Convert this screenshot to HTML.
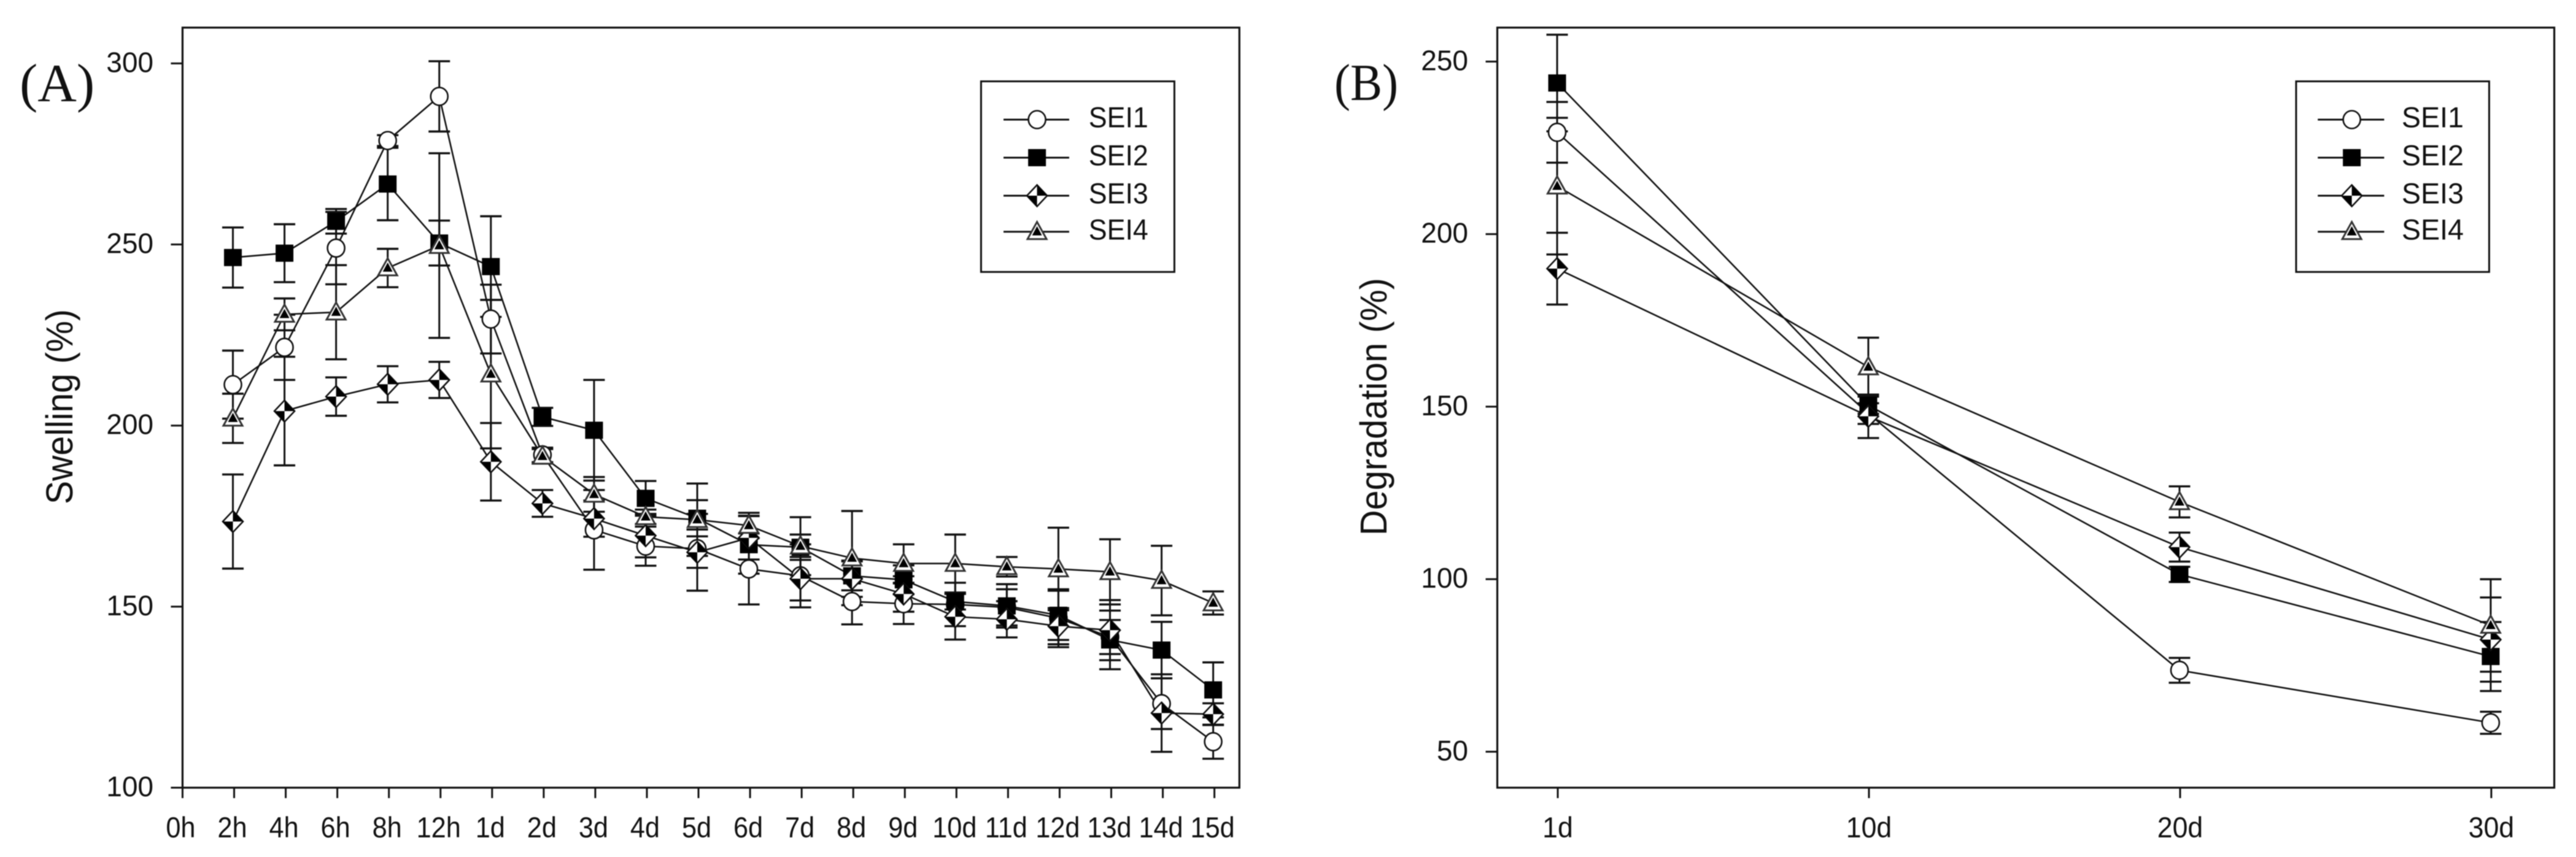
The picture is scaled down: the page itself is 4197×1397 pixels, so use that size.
<!DOCTYPE html>
<html>
<head>
<meta charset="utf-8">
<title>Swelling and degradation of SEI samples</title>
<style>
html,body{margin:0;padding:0;background:#fff;}
svg{display:block;filter:blur(0.7px);}
text{fill:#111;font-family:"Liberation Sans",Arial,sans-serif;}
.serif{font-family:"Liberation Serif","Times New Roman",serif;}
</style>
</head>
<body>
<svg id="figure" xmlns="http://www.w3.org/2000/svg" width="4197" height="1397" viewBox="0 0 4197 1397">
<rect x="0" y="0" width="4197" height="1397" fill="#fff"/>
<text class="serif" x="32" y="165" font-size="88">(A)</text>
<text class="serif" x="2174" y="163" font-size="85" textLength="104" lengthAdjust="spacingAndGlyphs">(B)</text>
<text transform="translate(118,822) rotate(-90)" font-size="61" textLength="318" lengthAdjust="spacingAndGlyphs">Swelling (%)</text>
<text transform="translate(2259,873) rotate(-90)" font-size="61" textLength="420" lengthAdjust="spacingAndGlyphs">Degradation (%)</text>
</svg>
<script>
// Panel A data
var categoriesA = ['0h','2h','4h','6h','8h','12h','1d','2d','3d','4d','5d','6d','7d','8d','9d','10d','11d','12d','13d','14d','15d'];
var yTicksA = [100,150,200,250,300];
var sei1A = [null,211.3,221.6,249,278.7,290.9,229.4,191.9,171.2,166.7,166,160.4,158.5,151.4,150.8,150.6,149.8,146.8,141.6,123.2,112.7];
var sei1ErrA = [null,9.4,9,10,1.5,9.7,9.5,2,11,5.4,5.3,9.8,8.7,6.3,5.6,6,5,8,4.7,7,4.7];
var sei2A = [null,246.4,247.6,256.4,266.7,250.4,243.9,202.4,198.7,179.9,174.4,167.1,166.4,158.5,157.4,151.4,150.2,147.6,140.8,138,127];
var sei2ErrA = [null,8.3,8,3.4,10,6.2,13.9,2.5,13.9,4.8,5,8,3.5,4,4,2.2,6,6.8,8.1,7.8,7.6];
var sei3A = [null,173.5,204,208,211.4,212.6,190,178.5,174.3,169.6,165,169,157.7,157.7,153.5,147.2,146.5,144.6,143.5,120.6,120.3];
var sei3ErrA = [null,13,15,5.3,5,5,10.7,3.7,5,6,10.6,6,6,5,4.9,6.3,5,5,8.3,10.7,3];
var sei4A = [null,202,230.7,231.3,243.5,249.7,214.2,191.5,181,174.8,174,172.4,166.7,163.4,161.9,161.9,161,160.4,159.6,157.2,151];
var sei4ErrA = [null,6.8,4.4,13,5.3,25.5,20.5,2,4.8,2,10,3.5,8,13,5.3,8,2.7,11.4,9,9.6,3.2];

// Panel B data
var categoriesB = ['1d','10d','20d','30d'];
var yTicksB = [50,100,150,200,250];
var sei1B = [229.5,148,73.6,58.4];
var sei1ErrB = [8.8,3,3.6,3.2];
var sei2B = [243.8,150.4,101.4,77.6];
var sei2ErrB = [14,2.5,2.2,10];
var sei3B = [190,147.2,109.3,82.5];
var sei3ErrB = [10.4,6.3,4.2,12.2];
var sei4B = [213.9,161.5,122.4,86.6];
var sei4ErrB = [19.8,8.5,4.5,13.4];

var seriesNames = ['SEI1','SEI2','SEI3','SEI4'];

var NS = 'http://www.w3.org/2000/svg';
var figure = document.getElementById('figure');

function shape(tag, attrs, name, parent) {
  var el = document.createElementNS(NS, tag);
  for (var k in attrs) { el.setAttribute(k, attrs[k]); }
  
  
  (parent || figure).appendChild(el);
  return el;
}

function seg(x1, y1, x2, y2, w, name, parent) {
  return shape('line', {x1:x1, y1:y1, x2:x2, y2:y2, stroke:'#111', 'stroke-width':w}, name, parent);
}

function marker(kind, cx, cy, name, parent) {
  var g = shape('g', {}, name, parent);
  if (kind === 0) {
    shape('ellipse', {cx:cx, cy:cy, rx:14, ry:14.5, fill:'#fff', stroke:'#111', 'stroke-width':2.6}, 'circle-symbol', g);
  } else if (kind === 1) {
    shape('rect', {x:cx-14.5, y:cy-14, width:29, height:28, fill:'#000'}, 'square-symbol', g);
  } else if (kind === 2) {
    var w = 16.5, h = 17.5;
    shape('polygon', {points:(cx)+','+(cy-h)+' '+(cx+w)+','+cy+' '+cx+','+(cy+h)+' '+(cx-w)+','+cy, fill:'#fff', stroke:'#111', 'stroke-width':2.6}, 'diamond-symbol', g);
    shape('polygon', {points:cx+','+(cy-h)+' '+(cx+w)+','+cy+' '+cx+','+cy, fill:'#000'}, 'diamond-dark-upper', g);
    shape('polygon', {points:cx+','+(cy+h)+' '+(cx-w)+','+cy+' '+cx+','+cy, fill:'#000'}, 'diamond-dark-lower', g);
  } else {
    var tw = 15.5, ttop = 16, tbot = 12;
    shape('polygon', {points:cx+','+(cy-ttop)+' '+(cx+tw)+','+(cy+tbot)+' '+(cx-tw)+','+(cy+tbot), fill:'#fff', stroke:'#333', 'stroke-width':3}, 'triangle-symbol', g);
    shape('polygon', {points:cx+','+(cy-9)+' '+(cx+8)+','+(cy+6)+' '+(cx-8)+','+(cy+6), fill:'#000'}, 'triangle-core', g);
  }
  return g;
}

function drawPanel(p) {
  var panel = shape('g', {}, p.id, figure);
  function xAxis(i) { return p.xStart + p.xStep * i; }
  function yAxis(v) { return p.yRef - (v - p.vRef) * p.yPerUnit; }

  // frame
  shape('rect', {x:p.left, y:p.top, width:p.right-p.left, height:p.bottom-p.top, fill:'none', stroke:'#111', 'stroke-width':3.2}, 'plot-frame', panel);

  // y ticks
  p.yTicks.forEach(function(v) {
    var y = yAxis(v);
    seg(p.left-19, y, p.left, y, 3, 'y-tick', panel);
    var t = shape('text', {x:p.yLabelX, y:y+14, 'font-size':46, 'text-anchor':'end'}, 'y-tick-label', panel);
    t.textContent = String(v);
  });

  // x ticks
  p.categories.forEach(function(c, i) {
    var x = xAxis(i);
    seg(x, p.bottom, x, p.bottom+17, 3, 'x-tick', panel);
    var t = shape('text', {x:x+p.xLabelShift, y:1365, 'font-size':47, 'text-anchor':'middle'}, 'x-tick-label', panel);
    t.textContent = c;
    t.setAttribute('textLength', (t.getComputedTextLength() * p.xSqueeze).toFixed(1));
    t.setAttribute('lengthAdjust', 'spacingAndGlyphs');
  });

  // series
  p.series.forEach(function(s, k) {
    var g = shape('g', {}, 'series-' + seriesNames[k].toLowerCase(), panel);
    var pts = [];
    s.values.forEach(function(v, i) {
      if (v === null) { return; }
      pts.push((xAxis(i)+p.markShift) + ',' + yAxis(v));
    });
    shape('polyline', {points:pts.join(' '), fill:'none', stroke:'#111', 'stroke-width':2.6}, 'series-line', g);
    s.values.forEach(function(v, i) {
      if (v === null) { return; }
      var x = xAxis(i)+p.markShift;
      var hi = yAxis(v + s.errs[i]);
      var lo = yAxis(v - s.errs[i]);
      seg(x, hi, x, lo, 3, 'error-bar-stem', g);
      seg(x-17.5, hi, x+17.5, hi, 3.4, 'error-bar-cap-upper', g);
      seg(x-17.5, lo, x+17.5, lo, 3.4, 'error-bar-cap-lower', g);
    });
  });
  p.series.forEach(function(s, k) {
    var g = shape('g', {}, 'markers-' + seriesNames[k].toLowerCase(), panel);
    s.values.forEach(function(v, i) {
      if (v === null) { return; }
      marker(k, xAxis(i)+p.markShift, yAxis(v), 'data-point', g);
    });
  });

  // legend
  var lg = shape('g', {}, 'legend', panel);
  shape('rect', {x:p.legend.left, y:132.6, width:p.legend.right-p.legend.left, height:310.7, fill:'#fff', stroke:'#111', 'stroke-width':3}, 'legend-box', lg);
  var rows = [195, 257, 319, 377.7];
  seriesNames.forEach(function(n, k) {
    var e = shape('g', {}, 'legend-entry', lg);
    seg(p.legend.lineA, rows[k], p.legend.lineB, rows[k], 3, 'legend-line', e);
    marker(k, p.legend.mark, rows[k], 'legend-symbol', e);
    var t = shape('text', {x:p.legend.text, y:rows[k]+12.6, 'font-size':47, textLength:p.legend.textLen, lengthAdjust:'spacingAndGlyphs'}, 'legend-label', e);
    t.textContent = n;
  });
}

drawPanel({
  id:'panel-a-swelling', left:297.4, right:2019.3, top:45, bottom:1284,
  xStart:297.4, xStep:84.06, markShift:-2, xLabelShift:-3, xSqueeze:0.92,
  yRef:1284, vRef:100, yPerUnit:5.903, yLabelX:250,
  categories:categoriesA, yTicks:yTicksA,
  series:[{values:sei1A,errs:sei1ErrA},{values:sei2A,errs:sei2ErrA},{values:sei3A,errs:sei3ErrA},{values:sei4A,errs:sei4ErrA}],
  legend:{left:1598.4,right:1913.4,lineA:1635,lineB:1742,mark:1689.6,text:1773.8,textLen:97}
});
drawPanel({
  id:'panel-b-degradation', left:2439.5, right:4161.6, top:45, bottom:1284,
  xStart:2538, xStep:507, markShift:-1, xLabelShift:0, xSqueeze:0.95,
  yRef:1225.4, vRef:50, yPerUnit:5.625, yLabelX:2392,
  categories:categoriesB, yTicks:yTicksB,
  series:[{values:sei1B,errs:sei1ErrB},{values:sei2B,errs:sei2ErrB},{values:sei3B,errs:sei3ErrB},{values:sei4B,errs:sei4ErrB}],
  legend:{left:3741,right:4055.5,lineA:3776.3,lineB:3884.5,mark:3831.7,text:3913,textLen:101}
});
</script>
</body>
</html>
